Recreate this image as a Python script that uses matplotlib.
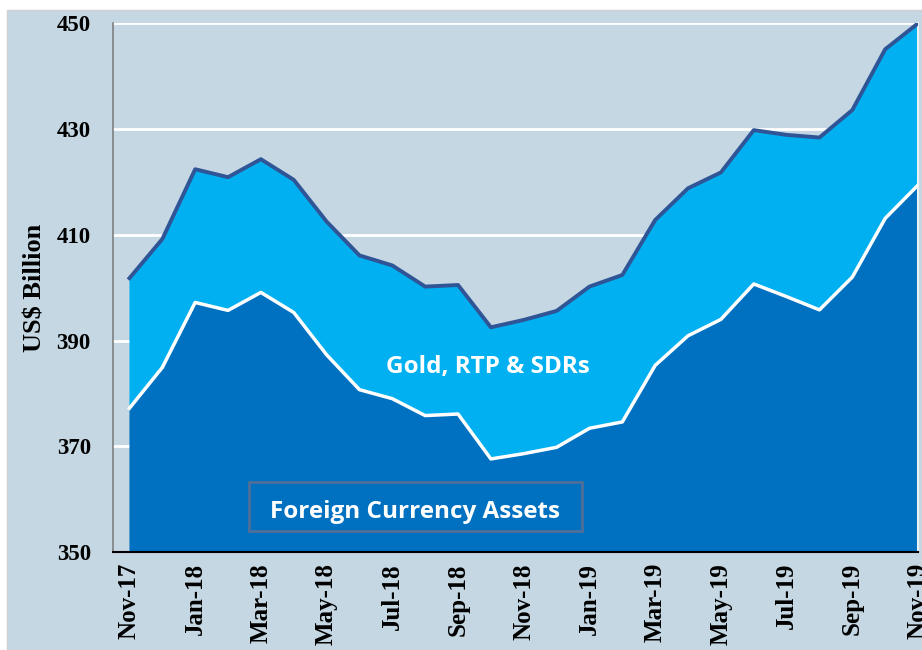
import matplotlib as mpl
import matplotlib.pyplot as plt
from matplotlib.patches import Rectangle
import numpy as np

# month labels, Nov-17 .. Nov-19
months = ['Nov-17', 'Dec-17', 'Jan-18', 'Feb-18', 'Mar-18', 'Apr-18', 'May-18',
          'Jun-18', 'Jul-18', 'Aug-18', 'Sep-18', 'Oct-18', 'Nov-18', 'Dec-18',
          'Jan-19', 'Feb-19', 'Mar-19', 'Apr-19', 'May-19', 'Jun-19', 'Jul-19',
          'Aug-19', 'Sep-19', 'Oct-19', 'Nov-19']

# foreign currency assets (US$ bn)
fca = [377.2, 384.9, 397.2, 395.7, 399.1, 395.3, 387.3, 380.7, 379.0, 375.8,
       376.1, 367.6, 368.6, 369.8, 373.4, 374.6, 385.3, 390.9, 394.0, 400.7,
       398.3, 395.8, 402.0, 413.1, 419.4]
# gold, reserve tranche position & SDRs (US$ bn)
gold_rtp_sdr = [24.6, 24.3, 25.2, 25.2, 25.2, 25.1, 25.2, 25.4, 25.2, 24.4,
                24.4, 24.9, 25.3, 25.8, 26.8, 27.8, 27.5, 27.9, 27.8, 29.1,
                30.6, 32.6, 31.6, 32.0, 30.6]

yticks = [350, 370, 390, 410, 430, 450]

serif = 'Liberation Serif'
sans = 'Open Sans'

bg = '#c4d7e2'
dark_blue = '#0070c0'
light_blue = '#00b0f0'
navy = '#2f5597'

fig = plt.figure(figsize=(9.22, 6.5), dpi=100)
fig.patch.set_facecolor('white')
fig.patches.append(Rectangle((7 / 922, 0), 1 - 7 / 922, 1 - 10 / 650,
                             transform=fig.transFigure, facecolor=bg,
                             edgecolor='#d0d0d0', linewidth=1, zorder=-10))

ax = fig.add_axes([0.1226, 0.1508, 0.9957 - 0.1226, 0.9641 - 0.1508])
ax.set_facecolor(bg)

x = np.arange(len(months))
fca = np.array(fca)
total = fca + np.array(gold_rtp_sdr)

ax.stackplot(x, fca, gold_rtp_sdr, colors=[dark_blue, light_blue], zorder=2)
ax.plot(x, fca, color='white', lw=2.5, zorder=3)
ax.plot(x, total, color=navy, lw=2.8, zorder=3)

ax.set_xlim(-0.5, 24)
ax.set_ylim(350, 450)
ax.set_yticks(yticks)
ax.set_xticks(x[::2])
ax.set_xticklabels(months[::2], rotation=90)
ax.grid(axis='y', color='white', lw=2, zorder=1)
ax.set_axisbelow(True)
ax.tick_params(axis='x', length=0, pad=8)
ax.tick_params(axis='y', length=0, pad=16)
for lab in ax.get_xticklabels():
    lab.set_fontfamily(serif)
    lab.set_fontweight('bold')
    lab.set_fontsize(18)
for lab in ax.get_yticklabels():
    lab.set_fontfamily(serif)
    lab.set_fontweight('bold')
    lab.set_fontsize(16.5)

ax.spines['top'].set_visible(False)
ax.spines['right'].set_color('#eaf2f6')
ax.spines['right'].set_linewidth(1.5)
ax.spines['left'].set_color('#808080')
ax.spines['left'].set_linewidth(1.2)
ax.spines['bottom'].set_color('black')
ax.spines['bottom'].set_linewidth(1.5)
ax.spines['bottom'].set_zorder(4)

fig.text(35 / 922, 1 - 288 / 650, 'US$ Billion', rotation=90, ha='center',
         va='center', fontsize=19, fontweight='bold', family=serif)

ax.text(10.92, 385.0, 'Gold, RTP & SDRs', color='white', fontsize=17.5,
        fontweight='bold', family=sans, ha='center', va='center', zorder=5)
ax.text(8.68, 357.5, 'Foreign Currency Assets', color='white', fontsize=17.5,
        fontweight='bold', family=sans, ha='center', va='center', zorder=5)
ax.add_patch(Rectangle((3.65, 354.0), 13.78 - 3.65, 363.3 - 354.0,
                       facecolor='none', edgecolor='#4f6f9a', linewidth=2,
                       zorder=5))

fig.savefig('out.png', dpi=100, facecolor=fig.get_facecolor())
